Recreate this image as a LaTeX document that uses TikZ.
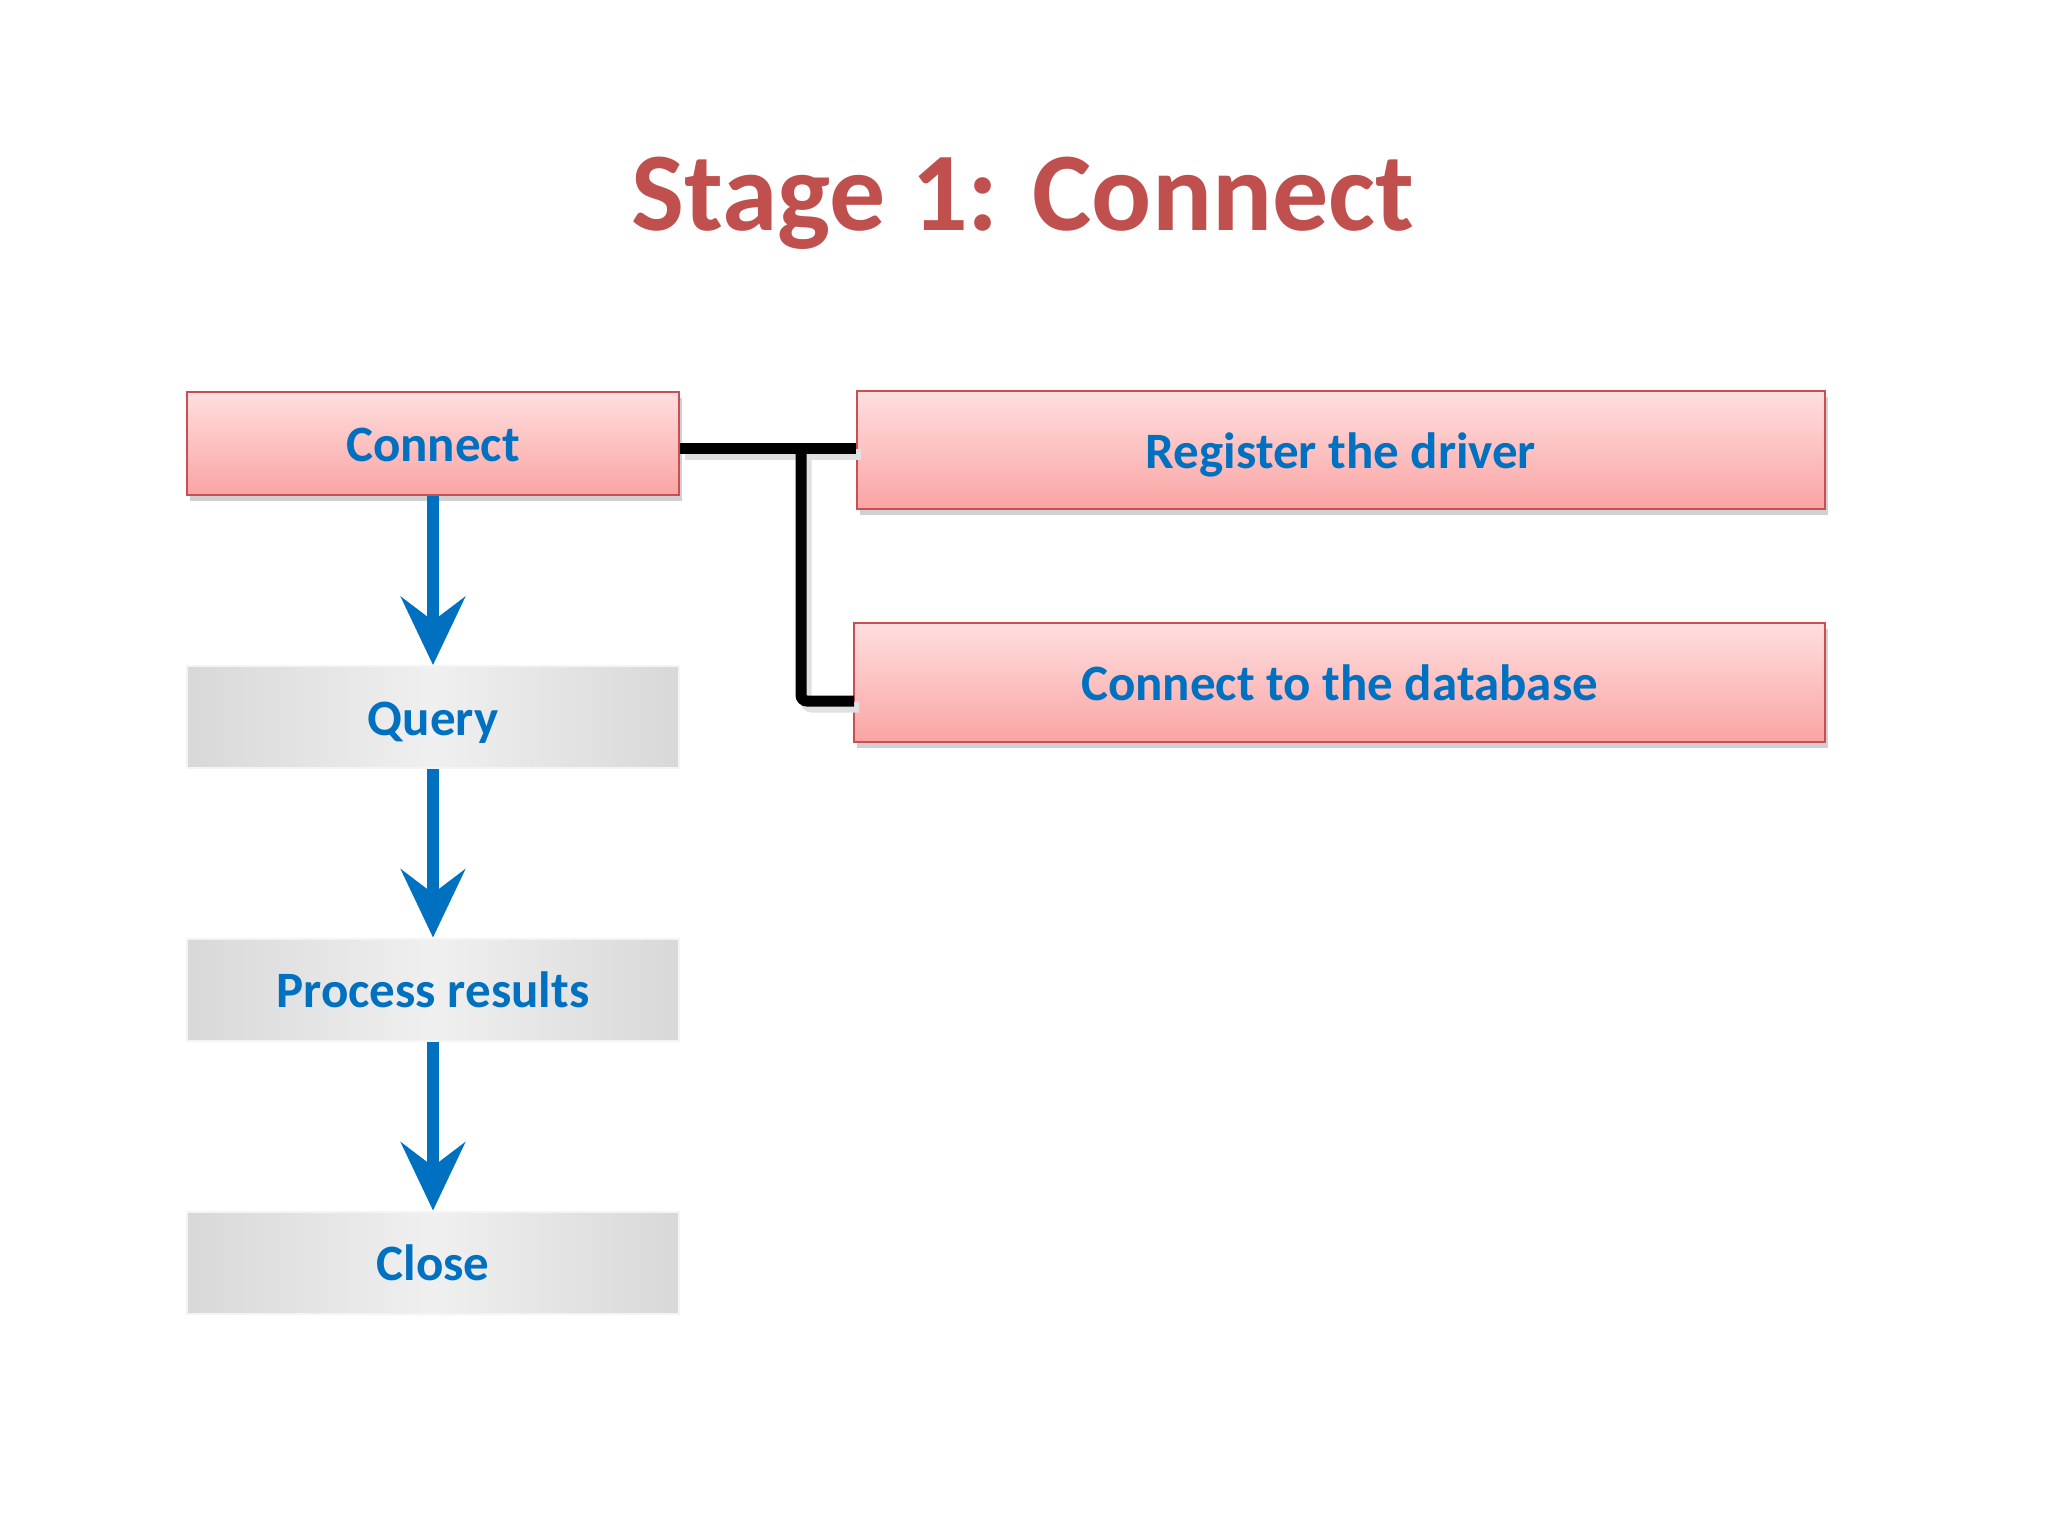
\documentclass[tikz,border=0pt]{standalone}
\usepackage{fontspec}
\setmainfont{Carlito}
\usetikzlibrary{shadows,arrows.meta}
\definecolor{titlered}{RGB}{192,80,77}
\definecolor{txtblue}{RGB}{0,112,192}
\definecolor{pinktop}{RGB}{255,222,222}
\definecolor{pinkbot}{RGB}{250,164,164}
\definecolor{pinkedge}{RGB}{200,80,85}
\definecolor{grayA}{RGB}{236,236,236}
\definecolor{grayB}{RGB}{216,216,216}
\tikzset{
  boxtext/.style={text=txtblue, font=\fontsize{51}{60}\selectfont\bfseries, inner sep=0pt,
    text height=40pt, text depth=4pt},
  redbox/.style={boxtext, draw=pinkedge, line width=2pt, top color=pinktop, bottom color=pinkbot,
    drop shadow={shadow xshift=3pt, shadow yshift=-6pt, opacity=0.3, fill=black!60}},
  graybox/.style={boxtext, draw=grayA!60!white, line width=2pt, left color=grayB, right color=grayB, middle color=grayA!80!white,
    minimum width=492pt, minimum height=102pt},
  flowarrow/.style={draw=txtblue, line width=12pt, -{Stealth[length=68pt, width=64pt, inset=24pt]}},
  linkline/.style={draw=black, line width=11pt, rounded corners=6pt,
    preaction={draw=black!12, line width=11pt, transform canvas={xshift=5pt, yshift=-6pt}}}
}
\begin{document}
\begin{tikzpicture}[x=1pt,y=-1pt]
\fill[white] (0,0) rectangle (2048,1536);
\useasboundingbox (0,0) rectangle (2048,1536);
\node[text=titlered, font=\fontsize{112}{130}\selectfont\bfseries] (title) at (1023,203) {Stage 1: Connect};
\node[redbox, minimum width=492pt, minimum height=103pt] (connect) at (433,443.5) {Connect};
\node[graybox] (query) at (433,717) {Query};
\node[graybox] (process) at (433,989.5) {Process results};
\node[graybox] (close) at (433,1262.5) {Close};
\node[redbox, minimum width=968pt, minimum height=118pt] (register) at (1341,450) {Register the driver};
\node[redbox, minimum width=971pt, minimum height=119pt] (db) at (1339.5,682.5) {Connect to the database};
\coordinate (j) at (801,448);
\coordinate (k) at (854,701);
\draw[linkline] (connect.east |- j) -- (register.west |- j);
\draw[linkline] (j) |- (k);
\draw[flowarrow] (connect.south) -- (query.north);
\draw[flowarrow] (query.south) -- (process.north);
\draw[flowarrow] (process.south) -- (close.north);
\end{tikzpicture}
\end{document}
